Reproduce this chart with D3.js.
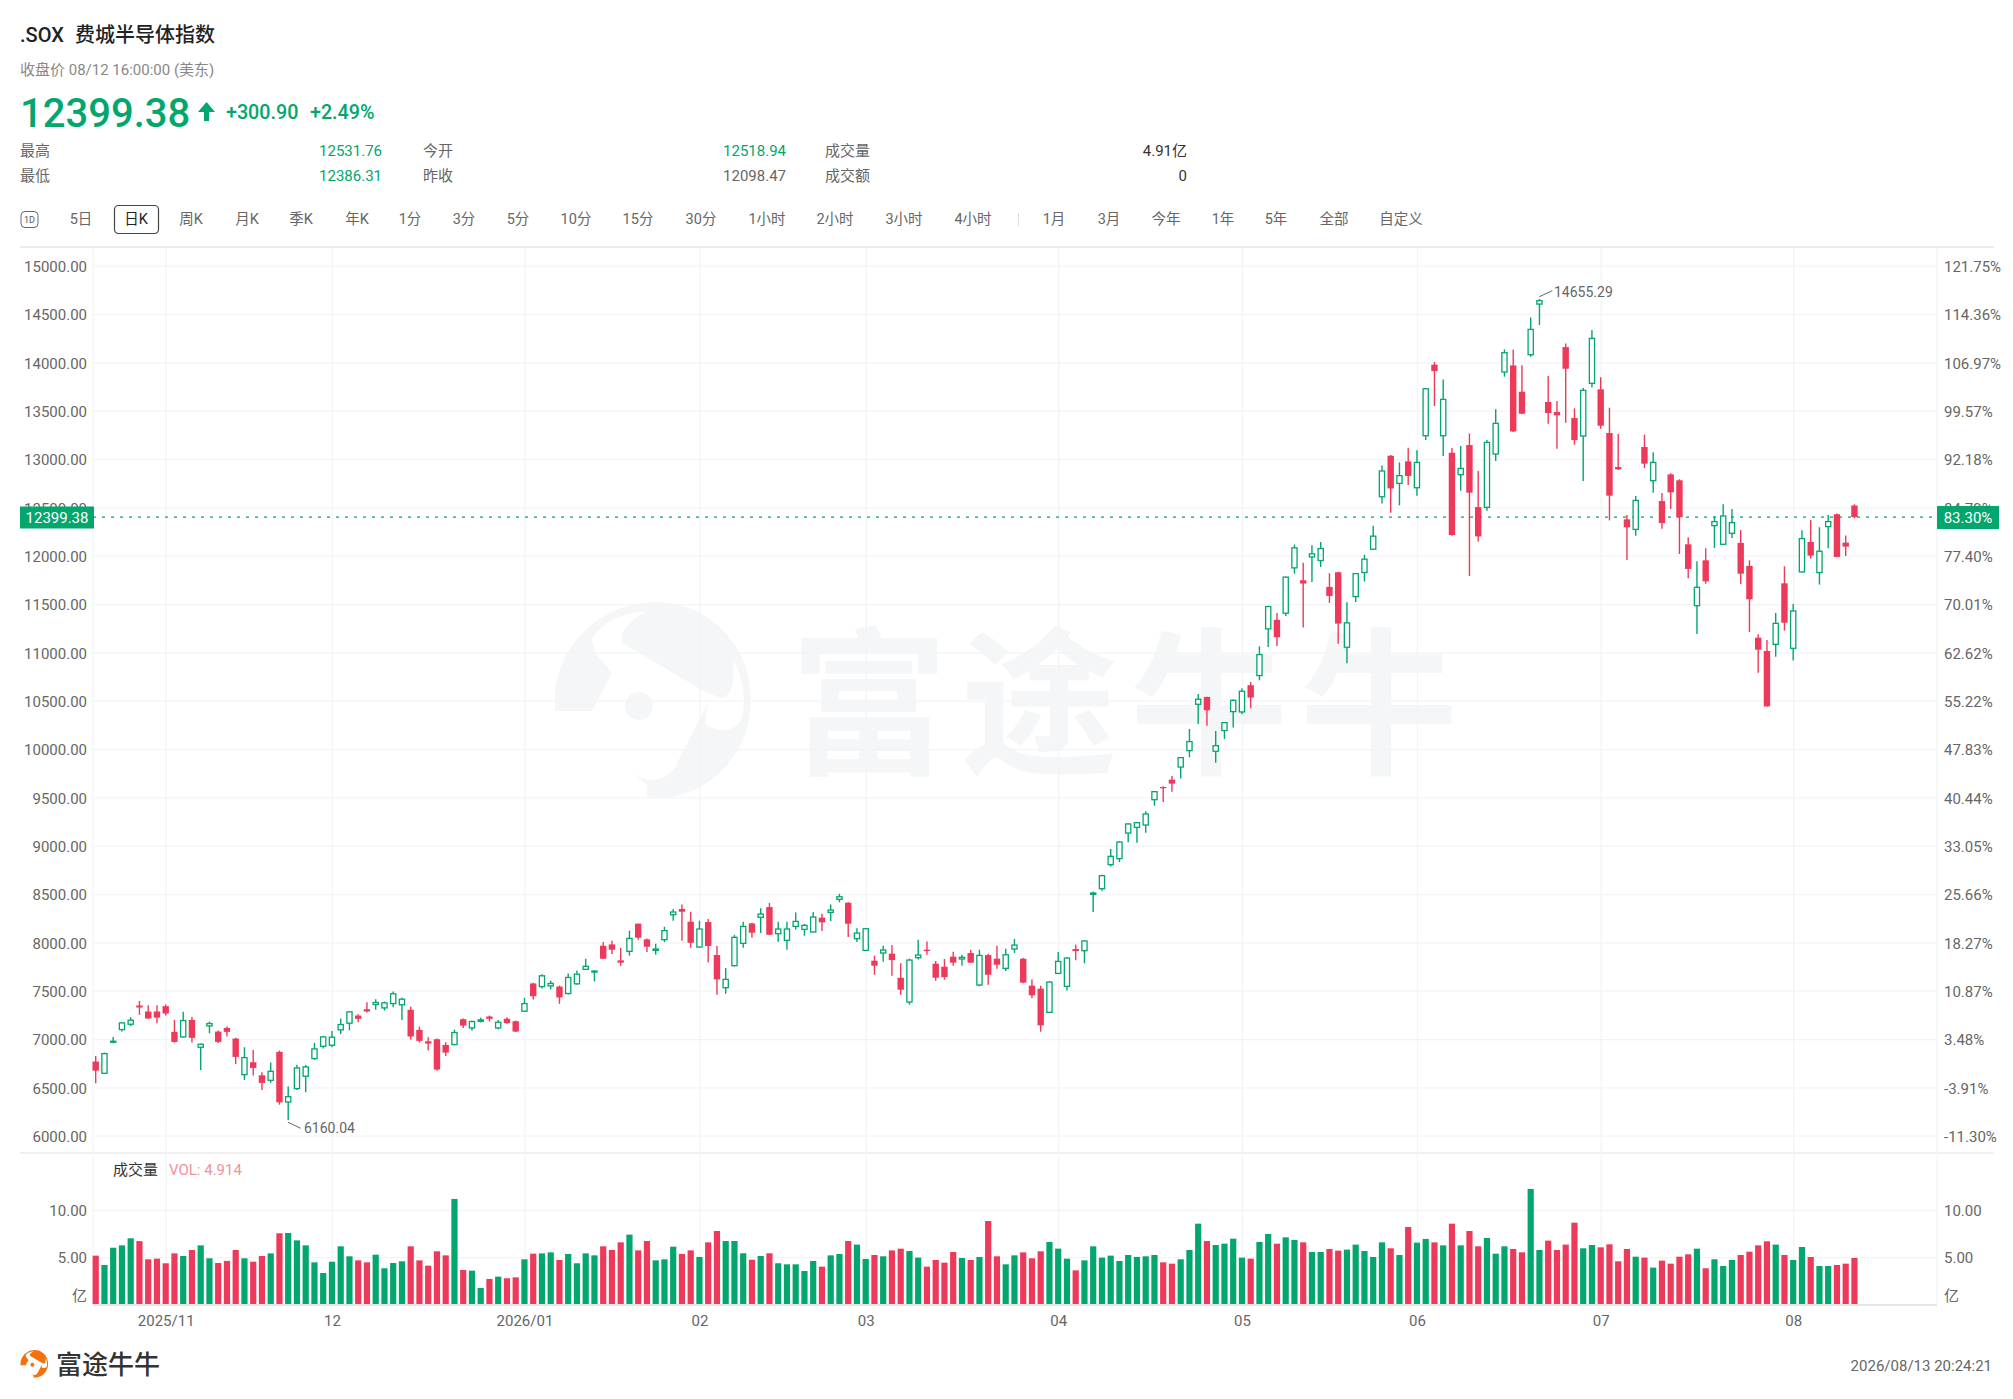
<!DOCTYPE html>
<html>
<head>
<meta charset="utf-8">
<script src="https://d3js.org/d3.v7.min.js"></script>
<style>
  body { margin: 0; background: #fff; }
  text { font-family: Roboto, "Noto Sans CJK SC", sans-serif; }
  .axis path.domain { display: none; }
  .axis text { font-size: 15px; fill: #666; }
  .grid path.domain { display: none; }
  .grid line { stroke: #f3f4f5; stroke-width: 1.3; }
</style>
</head>
<body>
<svg id="mainSvg" width="2013" height="1399" viewBox="0 0 2013 1399"></svg>
<script>
// daily candles
var opens = [
  6767,6646,6967,7098,7153,7347,7285,7285,7340,7074,7022,7198,6915,7136,7077,7115,7005,6632,6760,6625,
  6573,6867,6349,6487,6615,6798,6925,6936,7095,7164,7243,7309,7357,7322,7367,7354,7302,7095,6977,6998,
  6939,6943,7205,7115,7184,7233,7115,7209,7184,7288,7575,7543,7550,7543,7471,7571,7721,7693,7965,7979,
  7814,7907,8193,8031,7917,8028,8286,8345,8214,7952,8210,7869,7531,7759,7990,8196,8259,8365,8090,8021,
  8165,8134,8107,8255,8310,8445,8410,8038,7917,7810,7890,7883,7634,7383,7841,7924,7779,7748,7852,7828,
  7890,7559,7869,7831,7731,7931,7831,7552,7521,7276,7679,7545,7931,7914,8497,8555,8804,8866,9131,9190,
  9214,9476,9607,9683,9814,9984,10463,10539,9977,10191,10387,10384,10660,10760,11243,11336,11405,11874,11746,11988,
  11950,11677,11829,11053,11577,11826,12067,12610,13034,12748,12976,12703,13241,13976,13241,13065,12838,13145,12503,12500,
  13052,13900,13969,13696,14079,14603,13590,13486,14158,13424,13238,13783,13721,13269,12917,12376,12272,13124,12776,12565,
  12841,12780,12118,11483,11952,12311,12118,12232,12132,11894,11152,11014,11083,11714,11042,11832,12142,11825,12301,12429,
  12135,12518.94];
var highs = [
  6825,6860,7022,7177,7226,7395,7350,7350,7357,7198,7281,7229,6953,7181,7088,7129,7012,6915,6887,6656,
  6756,6881,6508,6735,6732,6960,7029,7084,7212,7288,7257,7381,7412,7388,7492,7426,7333,7129,7019,7005,
  6967,7098,7212,7191,7219,7243,7198,7226,7191,7426,7581,7671,7602,7554,7678,7709,7831,7710,8003,8017,
  7941,8121,8196,8041,7986,8162,8345,8393,8317,8224,8241,7962,7734,8076,8214,8203,8352,8407,8214,8214,
  8310,8190,8314,8296,8393,8503,8417,8145,8148,7862,7965,7972,7783,7831,8028,8010,7807,7828,7903,7872,
  7924,7924,7883,7965,7934,8034,7838,7617,7552,7597,7900,7845,7976,8020,8524,8700,8966,9045,9231,9245,
  9356,9566,9614,9721,9918,10208,10570,10542,10187,10280,10515,10629,10694,11063,11481,11408,11784,12116,11926,12109,
  12143,11819,11833,11519,11822,12009,12309,12934,13041,12965,13117,13090,13734,14003,13824,13114,13134,13265,12876,13196,
  13514,14134,14134,13969,14465,14655.29,13858,13600,14196,13524,13734,14334,13845,13531,13259,12421,12617,13252,13069,12648,
  12852,12791,12191,11942,12077,12408,12532,12484,12266,11952,11187,11128,11407,11890,11500,12263,12370,12294,12422,12436,
  12208,12531.76];
var lows = [
  6542,6646,6956,7077,7133,7250,7209,7164,7243,6963,7015,6963,6680,7060,6960,7026,6742,6577,6622,6473,
  6549,6321,6160.04,6473,6449,6784,6901,6915,7053,7091,7174,7274,7302,7295,7329,7198,6994,6963,6881,6673,
  6825,6936,7115,7088,7171,7181,7098,7157,7074,7281,7409,7523,7516,7364,7461,7561,7714,7597,7828,7879,
  7759,7862,8028,7900,7872,8003,8224,8017,7945,7945,7793,7459,7469,7752,7945,8048,8096,8076,8007,7924,
  8134,8069,8103,8117,8221,8414,8055,8003,7910,7665,7800,7655,7459,7355,7824,7872,7603,7614,7759,7759,
  7786,7545,7562,7728,7703,7890,7576,7421,7076,7269,7672,7503,7814,7783,8314,8535,8786,8831,9035,9031,
  9135,9414,9452,9559,9694,9915,10260,10242,9859,10104,10222,10360,10422,10711,11056,11067,11377,11815,11257,11729,
  11884,11512,11088,10887,11522,11733,12060,12541,12445,12521,12731,12621,13196,13548,13031,12207,12672,11790,12148,12465,
  12979,13852,13279,13462,14058,14386,13365,13107,13376,13148,12772,13741,13314,12365,12886,11955,12207,12907,12652,12279,
  12483,12018,11766,11190,11711,12080,12111,12184,11708,11211,10790,10438,10955,11225,10917,11825,11970,11701,12077,11983,
  11997,12386.31];
var closes = [
  6673,6849,6977,7167,7195,7326,7212,7222,7264,6970,7191,7012,6946,7160,6970,7074,6815,6808,6701,6546,
  6666,6345,6404,6701,6711,6898,7022,7019,7150,7281,7209,7285,7378,7374,7468,7412,7026,6981,6953,6684,
  6860,7067,7139,7181,7198,7209,7174,7164,7077,7367,7443,7654,7575,7430,7637,7671,7752,7703,7831,7924,
  7790,8041,8048,7955,7931,8121,8314,8317,7996,8138,7962,7617,7617,8052,8165,8100,8293,8079,8138,8138,
  8217,8176,8262,8207,8334,8472,8193,8096,8141,7759,7921,7817,7510,7817,7869,7910,7634,7641,7790,7845,
  7790,7865,7665,7769,7872,7972,7583,7452,7141,7590,7803,7838,7910,8014,8510,8690,8890,9038,9225,9238,
  9328,9559,9594,9642,9911,10077,10515,10401,10035,10273,10504,10598,10532,10977,11474,11157,11778,12081,11712,12019,
  12074,11584,11298,11305,11815,11964,12202,12876,12696,12828,12824,12965,13727,13910,13617,12214,12903,12652,12200,13172,
  13369,14100,13286,13469,14341,14638,13476,13452,13934,13196,13710,14248,13345,12621,12893,12293,12572,12952,12965,12338,
  12655,12398,11863,11673,11735,12353,12411,12342,11814,11549,11028,10441,11300,11307,11428,12177,12001,12046,12353,11987,
  12094,12399.38];
// volume in 亿
var volumes = [
  5.16,4.17,6.00,6.25,7.00,6.70,4.77,4.84,4.35,5.40,5.12,5.76,6.25,4.88,4.38,4.60,5.76,4.88,4.52,5.12,
  5.40,7.53,7.56,6.78,6.25,4.45,3.32,4.52,6.15,5.09,4.66,4.45,5.26,3.82,4.38,4.56,6.15,4.66,4.10,5.62,
  5.19,11.17,3.64,3.57,1.73,2.69,2.93,2.76,2.86,4.77,5.37,5.40,5.51,4.70,5.34,4.35,5.40,5.19,6.15,5.76,
  6.57,7.39,5.72,6.71,4.66,4.77,6.11,5.34,5.72,5.02,6.57,7.77,6.71,6.71,5.41,4.73,5.12,5.41,4.35,4.24,
  4.24,3.53,4.59,3.99,5.19,5.34,6.71,6.33,4.81,5.23,5.09,5.72,5.90,5.65,4.95,3.99,4.70,4.42,5.55,4.91,
  4.70,5.02,8.83,5.09,4.24,5.19,5.51,4.88,5.62,6.61,5.90,4.84,3.60,4.66,6.15,4.95,5.16,4.59,5.23,5.02,
  5.09,5.23,4.45,4.31,4.77,5.76,8.55,6.71,6.29,6.43,6.96,4.95,4.84,6.61,7.46,6.43,7.10,6.82,6.57,5.55,
  5.55,5.87,5.69,5.80,6.33,5.65,5.02,6.57,5.94,5.23,8.20,6.54,6.93,6.57,6.25,8.55,6.25,7.77,6.15,7.03,
  5.37,6.15,5.87,5.51,12.23,5.76,6.75,5.76,6.33,8.66,5.94,6.29,6.04,6.36,4.56,5.87,5.05,4.95,3.89,4.63,
  4.31,5.05,5.30,5.90,3.82,4.77,4.06,4.70,5.23,5.58,6.25,6.68,6.33,5.23,4.70,6.08,5.02,4.06,4.06,4.17,
  4.31,4.914];

var priceTicks = [15000,14500,14000,13500,13000,12500,12000,11500,11000,10500,10000,9500,9000,8500,8000,7500,7000,6500,6000];
var pctLabels = ["121.75%","114.36%","106.97%","99.57%","92.18%","84.79%","77.40%","70.01%","62.62%","55.22%","47.83%","40.44%","33.05%","25.66%","18.27%","10.87%","3.48%","-3.91%","-11.30%"];
var dateTicks = [8,27,49,69,88,110,131,151,172,194];
var dateLabels = ["2025/11","12","2026/01","02","03","04","05","06","07","08"];
var volTicks = [10,5];
var navLabels = ["5日","日K","周K","月K","季K","年K","1分","3分","5分","10分","15分","30分","1小时","2小时","3小时","4小时","1月","3月","今年","1年","5年","全部","自定义"];
var navCenters = [81,136,191,247,301,357,410,464,518,576,638,701,767,835,904,973,1054,1109,1166,1223,1276,1334,1401];

var lastPrice = 12399.38, lastPct = "83.30%";
var green = "#03a66d", red = "#ee3a5a", gridLeft = 93, gridRight = 1937;

var svg = d3.select("#mainSvg");

// Header
function label(x, y, txt, size, fill, anchor, weight) {
  return svg.append("text").attr("x", x).attr("y", y).attr("font-size", size).attr("fill", fill)
    .attr("text-anchor", anchor || "start").attr("font-weight", weight || 400)
    .attr("dominant-baseline", "central").text(txt);
}
label(20, 35, ".SOX", 20, "#222", "start", 500);
label(75, 35, "费城半导体指数", 20, "#222", "start", 500);
label(20, 70, "收盘价 08/12 16:00:00 (美东)", 15, "#888");
label(20, 113, "12399.38", 40, green, "start", 500);
svg.append("path").attr("d", "M206.5,102 L215,112 L209,112 L209,121 L204,121 L204,112 L198,112 Z").attr("fill", green);
label(226, 112, "+300.90", 19.7, green, "start", 500);
label(310, 112, "+2.49%", 19.7, green, "start", 500);

label(20, 151, "最高", 15, "#666");
label(382, 151, "12531.76", 15, green, "end");
label(423, 151, "今开", 15, "#666");
label(786, 151, "12518.94", 15, green, "end");
label(825, 151, "成交量", 15, "#666");
label(1187, 151, "4.91亿", 15, "#333", "end");
label(20, 176, "最低", 15, "#666");
label(382, 176, "12386.31", 15, green, "end");
label(423, 176, "昨收", 15, "#666");
label(786, 176, "12098.47", 15, "#666", "end");
label(825, 176, "成交额", 15, "#666");
label(1187, 176, "0", 15, "#333", "end");

// Period tabs
svg.append("rect").attr("x", 21).attr("y", 211.5).attr("width", 17).attr("height", 16).attr("rx", 4)
  .attr("fill", "none").attr("stroke", "#666");
label(29.5, 219.5, "1D", 9, "#555", "middle");
svg.append("rect").attr("x", 114.5).attr("y", 205.5).attr("width", 44).attr("height", 28).attr("rx", 4)
  .attr("fill", "#fff").attr("stroke", "#444").attr("stroke-width", 1.2);
svg.selectAll(".nav").data(navLabels).enter().append("text").attr("class", "nav")
  .attr("x", (d, i) => navCenters[i]).attr("y", 219.5).attr("text-anchor", "middle")
  .attr("dominant-baseline", "central").attr("font-size", 14.5)
  .attr("fill", d => d == "日K" ? "#222" : "#666").text(d => d);
svg.append("line").attr("x1", 1018.5).attr("x2", 1018.5).attr("y1", 213).attr("y2", 226).attr("stroke", "#ddd");

// Rules
svg.append("line").attr("x1", 20).attr("x2", 1994).attr("y1", 247).attr("y2", 247).attr("stroke", "#ebebeb").attr("stroke-width", 2);
svg.append("line").attr("x1", 20).attr("x2", 1994).attr("y1", 1153).attr("y2", 1153).attr("stroke", "#ebebeb").attr("stroke-width", 1.5);

// Watermark
var logoPath = "M101,0 C155,0 196,45 196,98 C196,150 155,196 101,196 L92,194 L92,184 L77,169 C85,176 92,180 98,178 C112,176 118,170 122,161 L153,101 L150,121 C155,128 175,132 184,121 C192,110 190,75 178,58 C180,75 178,96 165,96 L147,88 L67,41 L67,31 C72,22 82,14 92,10 C70,8 40,25 37,38 L40,51 L57,71 L37,109 L0,109 L0,98 C0,45 45,0 101,0 Z";
var wm = svg.append("g").attr("transform", "translate(555,602)");
wm.append("path").attr("d", logoPath).attr("fill", "#f5f6f7");
wm.append("ellipse").attr("cx", 84).attr("cy", 104).attr("rx", 14).attr("ry", 14).attr("fill", "#f5f6f7");
svg.append("text").attr("x", 790).attr("y", 762).attr("font-size", 158).attr("font-weight", 700)
  .attr("letter-spacing", 12).attr("fill", "#f5f6f7").text("富途牛牛");

// Scales
var x = d3.scaleLinear().domain([0, 201]).range([95.7, 1854.45]);
var y = d3.scaleLinear().domain([6000, 15000]).range([1135.7, 265.7]);
var vy = d3.scaleLinear().domain([0, 10]).range([1304.3, 1210]);

// Grid
svg.append("g").attr("class", "grid").attr("transform", "translate(" + gridLeft + ",0)")
  .call(d3.axisLeft(y).tickValues(priceTicks).tickSize(-(gridRight - gridLeft)).tickFormat(""));
svg.append("g").attr("class", "grid").attr("transform", "translate(" + gridLeft + ",0)")
  .call(d3.axisLeft(vy).tickValues(volTicks).tickSize(-(gridRight - gridLeft)).tickFormat(""));
svg.append("g").attr("class", "grid").attr("transform", "translate(0,1304)")
  .call(d3.axisBottom(x).tickValues(dateTicks).tickSize(-1056).tickFormat(""));
svg.selectAll(".edge").data([gridLeft, gridRight]).enter().append("line")
  .attr("x1", d => d).attr("x2", d => d).attr("y1", 248).attr("y2", 1304)
  .attr("stroke", "#f3f4f5").attr("stroke-width", 1.3);

// Axes
svg.append("g").attr("class", "axis").attr("transform", "translate(" + gridLeft + ",1)")
  .call(d3.axisLeft(y).tickValues(priceTicks).tickSize(0).tickPadding(6).tickFormat(d3.format(".2f")));
svg.append("g").attr("class", "axis").attr("transform", "translate(" + gridRight + ",1)")
  .call(d3.axisRight(y).tickValues(priceTicks).tickSize(0).tickPadding(7).tickFormat((d, i) => pctLabels[i]));
svg.append("g").attr("class", "axis").attr("transform", "translate(" + gridLeft + ",1)")
  .call(d3.axisLeft(vy).tickValues(volTicks).tickSize(0).tickPadding(6).tickFormat(d3.format(".2f")));
svg.append("g").attr("class", "axis").attr("transform", "translate(" + gridRight + ",1)")
  .call(d3.axisRight(vy).tickValues(volTicks).tickSize(0).tickPadding(7).tickFormat(d3.format(".2f")));
svg.append("g").attr("class", "axis").attr("transform", "translate(0,1306)")
  .call(d3.axisBottom(x).tickValues(dateTicks).tickSize(0).tickPadding(9).tickFormat((d, i) => dateLabels[i]));
label(87, 1296, "亿", 15, "#666", "end");
label(1944, 1296, "亿", 15, "#666");

// Last price line
svg.append("line").attr("x1", gridLeft).attr("x2", gridRight).attr("y1", y(lastPrice)).attr("y2", y(lastPrice))
  .attr("stroke", green).attr("stroke-width", 1.2).attr("stroke-dasharray", "3,6");

// Candles
var candles = svg.append("g").selectAll("g").data(closes).enter().append("g");
candles.append("line")
  .attr("x1", (d, i) => x(i)).attr("x2", (d, i) => x(i))
  .attr("y1", (d, i) => y(highs[i])).attr("y2", (d, i) => y(lows[i]))
  .attr("stroke", (d, i) => d >= opens[i] ? green : red).attr("stroke-width", 1.4);
candles.append("rect")
  .attr("x", (d, i) => x(i) - (d >= opens[i] ? 2.6 : 3.2))
  .attr("width", (d, i) => d >= opens[i] ? 5.2 : 6.4)
  .attr("y", (d, i) => y(Math.max(d, opens[i])))
  .attr("height", (d, i) => Math.max(1, y(Math.min(d, opens[i])) - y(Math.max(d, opens[i]))))
  .attr("fill", (d, i) => d >= opens[i] ? "#fff" : red)
  .attr("stroke", (d, i) => d >= opens[i] ? green : "none").attr("stroke-width", 1.3);

// High and low notes
svg.append("path").attr("d", "M1539.3,296.7 L1552.3,290.7").attr("stroke", "#666").attr("fill", "none");
label(1554, 292, "14655.29", 14, "#666");
svg.append("path").attr("d", "M288,1122.3 L300.7,1128.3").attr("stroke", "#666").attr("fill", "none");
label(304, 1128, "6160.04", 14, "#666");

// Price tags
svg.append("rect").attr("x", 20).attr("y", 506.5).attr("width", 74).attr("height", 22).attr("fill", green);
label(57, 518, "12399.38", 15, "#fff", "middle");
svg.append("rect").attr("x", 1937).attr("y", 506).attr("width", 62).attr("height", 23).attr("fill", green);
label(1968, 518, lastPct, 15, "#fff", "middle");

// Volume
label(113, 1170, "成交量", 15, "#333");
label(169, 1170, "VOL: 4.914", 15, "#f2919b");
svg.append("g").selectAll("rect").data(volumes).enter().append("rect")
  .attr("x", (d, i) => x(i) - 3.1).attr("width", 6.2)
  .attr("y", d => vy(d)).attr("height", d => vy(0) - vy(d))
  .attr("fill", (d, i) => closes[i] >= opens[i] ? green : red);
svg.append("line").attr("x1", gridLeft).attr("x2", gridRight).attr("y1", 1305).attr("y2", 1305).attr("stroke", "#e6e6e6").attr("stroke-width", 2);

// Footer
var fl = svg.append("g").attr("transform", "translate(20.5,1350) scale(0.141)");
fl.append("circle").attr("cx", 98).attr("cy", 98).attr("r", 96).attr("fill", "#fff");
fl.append("path").attr("d", logoPath).attr("fill", "#f5700f");
fl.append("ellipse").attr("cx", 84).attr("cy", 104).attr("rx", 14).attr("ry", 14).attr("fill", "#f5700f");
label(56, 1365, "富途牛牛", 26, "#333", "start", 500);
label(1992, 1366, "2026/08/13 20:24:21", 15, "#666", "end");
</script>
</body>
</html>
